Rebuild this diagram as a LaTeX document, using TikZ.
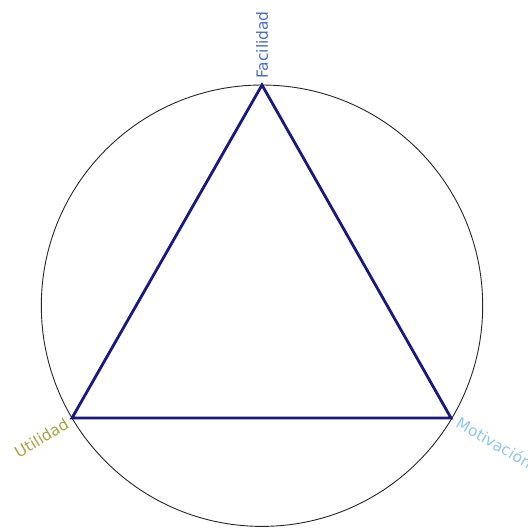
\documentclass[tikz,border=0pt]{standalone}
\usepackage{fontspec}
\setmainfont{DejaVu Sans}
\definecolor{navytri}{HTML}{18187E}
\definecolor{facil}{HTML}{4A6CC4}
\definecolor{util}{HTML}{A8A442}
\definecolor{motiv}{HTML}{8EC6EE}
\begin{document}
\begin{tikzpicture}[x=1pt,y=-1pt,
  lbl/.style={font=\fontsize{15.5}{17}\selectfont, inner sep=1pt}]
\useasboundingbox (0,0) rectangle (528,531);
\node[draw=black!85, line width=0.9pt, circle, minimum size=441.4pt, inner sep=0pt] (circ) at (262,305.7) {};
\coordinate (F) at (262,85);
\coordinate (U) at (72,418);
\coordinate (M) at (451,418);
\draw[navytri, line width=2.8pt, line join=miter] (F) -- (U) -- (M) -- cycle;
\node[lbl, text=facil, rotate=90, anchor=west] (fl) at (262,80) {Facilidad};
\node[lbl, text=util, rotate=31, anchor=east] (ul) at (68,422) {Utilidad};
\node[lbl, text=motiv, rotate=-30, anchor=west] (ml) at (457,421) {Motivación};
\end{tikzpicture}
\end{document}
